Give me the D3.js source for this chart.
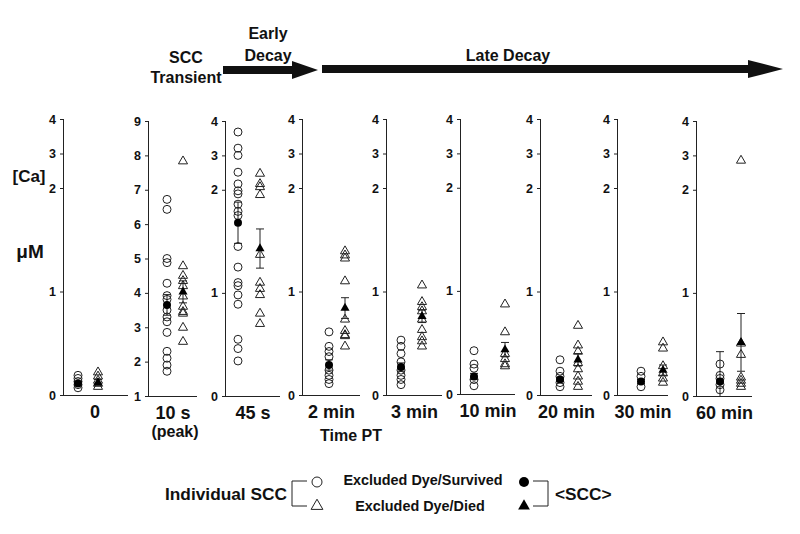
<!DOCTYPE html>
<html><head><meta charset="utf-8">
<script src="https://cdn.jsdelivr.net/npm/d3@7"></script>
<style>
body{margin:0;background:#fff;}
svg text{font-family:"Liberation Sans",Arial,sans-serif;font-weight:bold;fill:#111;}
</style></head>
<body><svg id="c" width="800" height="534"></svg>
<script>
// ---------- data ----------
const panelLabels = ["0","10 s","45 s","2 min","3 min","10 min","20 min","30 min","60 min"];
const ticks4 = [0,1,2,3,4];
const ticks9 = [1,2,3,4,5,6,7,8,9];
const survived = [
  [0.19,0.16,0.13,0.10,0.07],
  [6.72,6.43,5.0,4.88,4.28,3.92,3.81,3.5,3.3,3.16,2.85,2.3,2.1,1.9,1.72],
  [3.68,3.21,3.0,2.51,2.17,1.99,1.96,1.86,1.79,1.75,1.45,1.25,1.10,1.07,0.98,0.89,0.55,0.46,0.34],
  [0.61,0.47,0.42,0.37,0.24,0.19,0.15,0.11],
  [0.53,0.47,0.40,0.32,0.24,0.19,0.15,0.10],
  [0.42,0.29,0.25,0.14,0.08],
  [0.34,0.23,0.18,0.12,0.08],
  [0.23,0.18,0.08],
  [0.31,0.20,0.17,0.11,0.06]
];
const died = [
  [0.22,0.18,0.14,0.11,0.08],
  [7.83,4.78,4.5,4.35,4.2,3.9,3.6,3.45,3.4,2.99,2.58],
  [2.47,2.17,2.08,1.95,1.37,1.10,1.04,0.98,0.80,0.70],
  [1.39,1.35,1.32,1.10,0.73,0.62,0.58,0.57,0.47],
  [1.06,0.90,0.85,0.81,0.73,0.63,0.56,0.52,0.47],
  [0.87,0.60,0.39,0.34,0.29,0.27],
  [0.67,0.48,0.42,0.31,0.25,0.18,0.13,0.08],
  [0.51,0.45,0.28,0.21,0.16,0.12],
  [2.85,0.51,0.40,0.18,0.15,0.12,0.09]
];
const survivedMean = [0.11,3.65,1.68,0.29,0.27,0.17,0.15,0.13,0.14];
const survivedSEM  = [0.02,0.30,0.20,0.05,0.04,0.03,0.02,0.02,0.29];
const diedMean     = [0.12,4.03,1.43,0.84,0.76,0.43,0.34,0.24,0.52];
const diedSEM      = [0.03,0.32,0.19,0.10,0.06,0.07,0.06,0.05,0.28];

// ---------- layout ----------
const layout = [
  {ax:64, c:78, t:98, end:128, top:119, bot:395},
  {ax:149,c:167,t:183,end:197, top:121, bot:396},
  {ax:226,c:238,t:260,end:280, top:121, bot:396},
  {ax:303,c:329,t:345,end:360, top:119, bot:395},
  {ax:387,c:401,t:422,end:442, top:119, bot:395},
  {ax:461,c:474,t:505,end:515, top:119, bot:394},
  {ax:541,c:560,t:578,end:592, top:119, bot:395},
  {ax:618,c:641,t:663,end:668, top:119, bot:395},
  {ax:697,c:720,t:741,end:752, top:121, bot:396}
];

const svg = d3.select("#c");
const ink = "#222";
const triPath = d3.symbol().type(d3.symbolTriangle).size(36);

panelLabels.forEach((lab,i)=>{
  const L = layout[i];
  const h = L.bot - L.top;
  const y = (i===1)
    ? d3.scaleLinear().domain([1,9]).range([L.bot,L.top])
    : d3.scaleLinear().domain([0,2,4]).range([L.bot,L.bot-0.75*h,L.top]);
  const x = d3.scalePoint().domain(["s","d"]).range([L.c,L.t]);
  const g = svg.append("g");

  const axis = d3.axisLeft(y).tickValues(i===1?ticks9:ticks4).tickSize(4).tickPadding(4).tickFormat(d3.format("d"));
  const ag = g.append("g").attr("transform",`translate(${L.ax},0)`).call(axis);
  ag.select(".domain").attr("stroke",ink).attr("d",`M-0.5,${L.top}V${L.bot}`);
  ag.selectAll(".tick line").attr("stroke",ink);
  ag.selectAll(".tick text").attr("font-size",12.5).style("font-family","Liberation Sans, Arial, sans-serif").style("font-weight","bold").attr("fill","#222");
  g.append("line").attr("x1",L.ax).attr("x2",L.end).attr("y1",L.bot+0.5).attr("y2",L.bot+0.5).attr("stroke",ink);

  // error bars
  [["s",survivedMean[i],survivedSEM[i]],["d",diedMean[i],diedSEM[i]]].forEach(([k,m,s])=>{
    const lo = Math.max(y.domain()[0], m-s), hi = m+s;
    const xx = x(k);
    g.append("line").attr("x1",xx).attr("x2",xx).attr("y1",y(lo)).attr("y2",y(hi)).attr("stroke",ink);
    [lo,hi].forEach(v=>{ if(v>y.domain()[0]) g.append("line").attr("x1",xx-4).attr("x2",xx+4).attr("y1",y(v)).attr("y2",y(v)).attr("stroke",ink);});
  });

  g.selectAll("circle.o").data(survived[i]).join("circle")
    .attr("cx",x("s")).attr("cy",d=>y(d)).attr("r",4)
    .attr("fill","none").attr("stroke",ink).attr("stroke-width",1);
  g.selectAll("path.o").data(died[i]).join("path")
    .attr("d",triPath).attr("transform",d=>`translate(${x("d")},${y(d)})`)
    .attr("fill","none").attr("stroke",ink).attr("stroke-width",1);

  g.append("circle").attr("cx",x("s")).attr("cy",y(survivedMean[i])).attr("r",4).attr("fill","#000");
  g.append("path").attr("d",triPath).attr("transform",`translate(${x("d")},${y(diedMean[i])})`).attr("fill","#000");

  g.append("text").attr("x",(L.ax+L.end)/2+(i===0?-1:0)).attr("y",L.bot+23).attr("text-anchor","middle").attr("font-size",18).text(lab);
});

// axis annotations
svg.append("text").attr("x",175).attr("y",437).attr("text-anchor","middle").attr("font-size",16).text("(peak)");
svg.append("text").attr("x",351).attr("y",441).attr("text-anchor","middle").attr("font-size",16).text("Time PT");
svg.append("text").attr("x",29).attr("y",182).attr("text-anchor","middle").attr("font-size",17).text("[Ca]");
svg.append("text").attr("x",30).attr("y",258).attr("text-anchor","middle").attr("font-size",19).text("μM");

// phase headers
svg.append("text").attr("x",186).attr("y",63).attr("text-anchor","middle").attr("font-size",16).text("SCC");
svg.append("text").attr("x",186).attr("y",83).attr("text-anchor","middle").attr("font-size",16).text("Transient");
svg.append("text").attr("x",268).attr("y",39).attr("text-anchor","middle").attr("font-size",16).text("Early");
svg.append("text").attr("x",268).attr("y",61).attr("text-anchor","middle").attr("font-size",16).text("Decay");
svg.append("text").attr("x",508).attr("y",61).attr("text-anchor","middle").attr("font-size",16).text("Late Decay");
function arrow(x0,xh,x1,yc){
  svg.append("path").attr("fill","#111")
    .attr("d",`M${x0},${yc-4}H${xh}V${yc-9}L${x1},${yc}L${xh},${yc+9}V${yc+4}H${x0}Z`);
}
arrow(223,292,318,70);
arrow(322,748,783,69);

// legend
svg.append("text").attr("x",165).attr("y",500).attr("font-size",17.3).text("Individual SCC");
svg.append("path").attr("fill","none").attr("stroke",ink).attr("d","M307,481H292V506H307");
svg.append("circle").attr("cx",317).attr("cy",482).attr("r",5).attr("fill","none").attr("stroke",ink);
svg.append("path").attr("d",d3.symbol().type(d3.symbolTriangle).size(60)).attr("transform","translate(317,506)").attr("fill","none").attr("stroke",ink);
svg.append("text").attr("x",423).attr("y",485).attr("text-anchor","middle").attr("font-size",14.4).text("Excluded Dye/Survived");
svg.append("text").attr("x",420).attr("y",511).attr("text-anchor","middle").attr("font-size",14.4).text("Excluded Dye/Died");
svg.append("circle").attr("cx",524).attr("cy",482).attr("r",5).attr("fill","#000");
svg.append("path").attr("d",d3.symbol().type(d3.symbolTriangle).size(60)).attr("transform","translate(524,506)").attr("fill","#000");
svg.append("path").attr("fill","none").attr("stroke",ink).attr("d","M533,481H548V506H533");
svg.append("text").attr("x",555).attr("y",500).attr("font-size",17.3).text("<SCC>");
</script></body></html>
